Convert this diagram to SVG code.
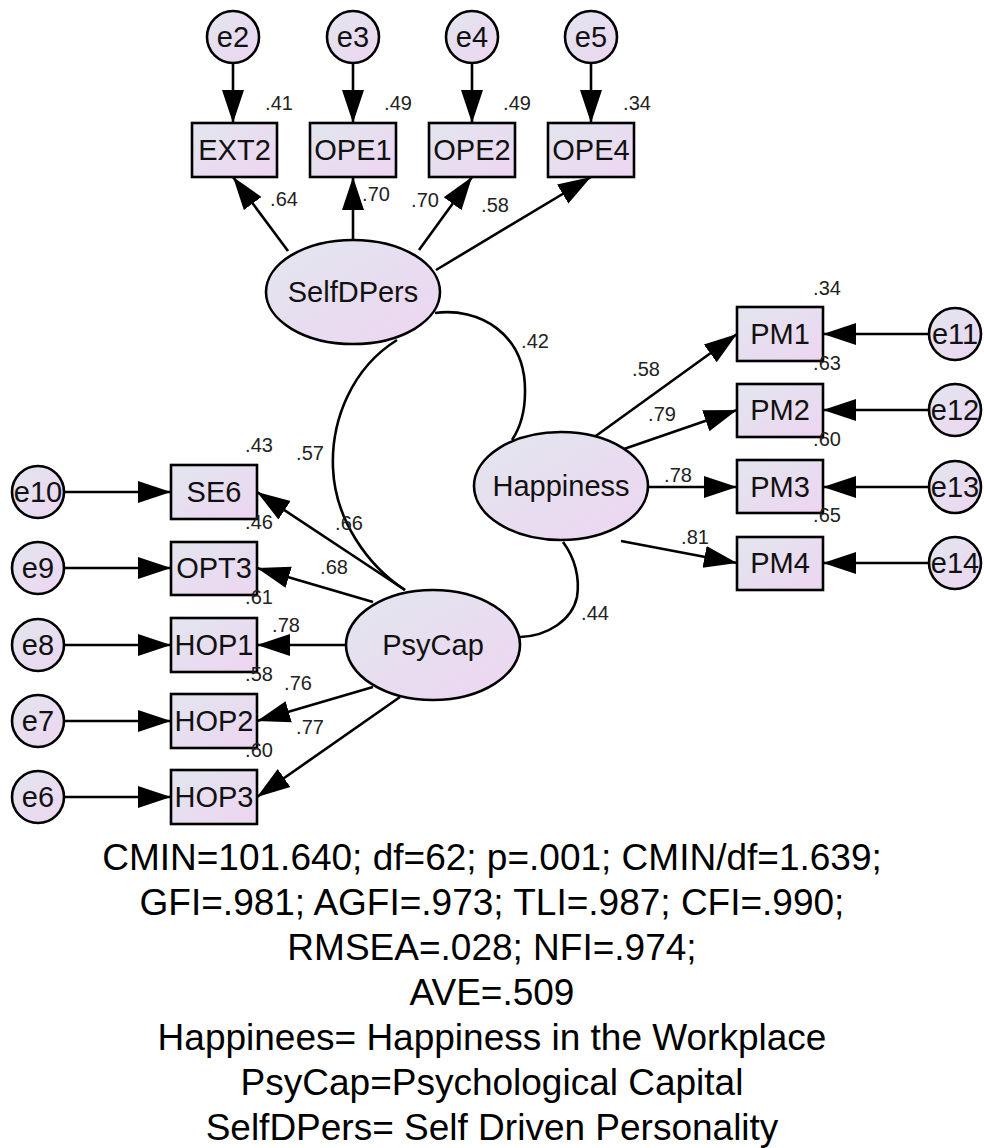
<svg xmlns="http://www.w3.org/2000/svg" width="984" height="1148" viewBox="0 0 984 1148">
<defs>
<linearGradient id="fill" x1="0" y1="0" x2="1" y2="1">
<stop offset="0" stop-color="#e2e6ee"/>
<stop offset="1" stop-color="#edd5f1"/>
</linearGradient>
<marker id="arr" markerUnits="userSpaceOnUse" markerWidth="34" markerHeight="24" refX="33" refY="12" orient="auto">
<path d="M0,1 L33,12 L0,23 z" fill="#000"/>
</marker>
</defs>
<style>
.shape{fill:url(#fill);stroke:#000;stroke-width:2.6}
.lbl{font-family:"Liberation Sans",Arial,sans-serif;font-size:29px;fill:#111;text-anchor:middle}
.num{font-family:"Liberation Sans",Arial,sans-serif;font-size:20px;fill:#222;text-anchor:middle}
.path{stroke:#000;stroke-width:2.6;fill:none;marker-end:url(#arr)}
.cov{stroke:#000;stroke-width:2.6;fill:none}
.foot{font-family:"Liberation Sans",Arial,sans-serif;font-size:37px;fill:#000;text-anchor:middle}
</style>
<rect width="984" height="1148" fill="#fff"/>
<g id="connectors">
<line class="path" x1="233" y1="63" x2="233" y2="123"/>
<line class="path" x1="353" y1="63" x2="353" y2="123"/>
<line class="path" x1="472" y1="63" x2="472" y2="123"/>
<line class="path" x1="591" y1="63" x2="591" y2="123"/>
<line class="path" x1="288" y1="251" x2="233" y2="177"/>
<line class="path" x1="353" y1="240" x2="353" y2="177"/>
<line class="path" x1="419" y1="250" x2="472" y2="177"/>
<line class="path" x1="436" y1="270" x2="591" y2="177"/>
<line class="path" x1="593" y1="438" x2="737" y2="334"/>
<line class="path" x1="621" y1="450" x2="737" y2="410"/>
<line class="path" x1="648" y1="487" x2="737" y2="487"/>
<line class="path" x1="621" y1="541" x2="737" y2="563"/>
<line class="path" x1="929" y1="334" x2="823" y2="334"/>
<line class="path" x1="929" y1="410" x2="823" y2="410"/>
<line class="path" x1="929" y1="487" x2="823" y2="487"/>
<line class="path" x1="929" y1="563" x2="823" y2="563"/>
<line class="path" x1="64" y1="492" x2="171" y2="492"/>
<line class="path" x1="64" y1="568" x2="171" y2="568"/>
<line class="path" x1="64" y1="645" x2="171" y2="645"/>
<line class="path" x1="64" y1="721" x2="171" y2="721"/>
<line class="path" x1="64" y1="797" x2="171" y2="797"/>
<line class="path" x1="405" y1="590" x2="257" y2="492"/>
<line class="path" x1="373" y1="602" x2="257" y2="568"/>
<line class="path" x1="346" y1="645" x2="257" y2="645"/>
<line class="path" x1="373" y1="687" x2="257" y2="721"/>
<line class="path" x1="400" y1="697" x2="257" y2="797"/>
<path class="cov" d="M435,313 C478,307 526,333 525,392 C525,412 520,428 512,440"/>
<path class="cov" d="M397,340 C352,368 331,420 333,468 C335,520 368,566 405,590"/>
<path class="cov" d="M563,542 C575,558 580,578 577,597 C572,620 548,636 520,637"/>
</g>
<g id="e2"><circle class="shape" cx="233" cy="37" r="26"/><text class="lbl" x="233" y="47">e2</text></g>
<g id="e3"><circle class="shape" cx="353" cy="37" r="26"/><text class="lbl" x="353" y="47">e3</text></g>
<g id="e4"><circle class="shape" cx="472" cy="37" r="26"/><text class="lbl" x="472" y="47">e4</text></g>
<g id="e5"><circle class="shape" cx="591" cy="37" r="26"/><text class="lbl" x="591" y="47">e5</text></g>
<g id="EXT2"><rect class="shape" x="192" y="123" width="85" height="54"/><text class="lbl" x="234.5" y="160">EXT2</text></g>
<g id="OPE1"><rect class="shape" x="310" y="123" width="86" height="54"/><text class="lbl" x="353" y="160">OPE1</text></g>
<g id="OPE2"><rect class="shape" x="429" y="123" width="86" height="54"/><text class="lbl" x="472" y="160">OPE2</text></g>
<g id="OPE4"><rect class="shape" x="548" y="123" width="86" height="54"/><text class="lbl" x="591" y="160">OPE4</text></g>
<g id="SelfDPers"><ellipse class="shape" cx="353" cy="292" rx="87" ry="52"/><text class="lbl" x="353" y="302">SelfDPers</text></g>
<g id="Happiness"><ellipse class="shape" cx="561" cy="486" rx="87" ry="54"/><text class="lbl" x="561" y="496">Happiness</text></g>
<g id="PsyCap"><ellipse class="shape" cx="433" cy="645" rx="87" ry="55"/><text class="lbl" x="433" y="655">PsyCap</text></g>
<g id="PM1"><rect class="shape" x="737" y="307" width="86" height="54"/><text class="lbl" x="780" y="344">PM1</text></g>
<g id="PM2"><rect class="shape" x="737" y="384" width="86" height="53"/><text class="lbl" x="780" y="420">PM2</text></g>
<g id="PM3"><rect class="shape" x="737" y="460" width="86" height="53"/><text class="lbl" x="780" y="497">PM3</text></g>
<g id="PM4"><rect class="shape" x="737" y="537" width="86" height="53"/><text class="lbl" x="780" y="573">PM4</text></g>
<g id="e11"><circle class="shape" cx="955" cy="334" r="26"/><text class="lbl" x="955" y="344">e11</text></g>
<g id="e12"><circle class="shape" cx="955" cy="410" r="26"/><text class="lbl" x="955" y="420">e12</text></g>
<g id="e13"><circle class="shape" cx="955" cy="487" r="26"/><text class="lbl" x="955" y="497">e13</text></g>
<g id="e14"><circle class="shape" cx="955" cy="563" r="26"/><text class="lbl" x="955" y="573">e14</text></g>
<g id="SE6"><rect class="shape" x="171" y="465" width="86" height="54"/><text class="lbl" x="214" y="502">SE6</text></g>
<g id="OPT3"><rect class="shape" x="171" y="542" width="86" height="53"/><text class="lbl" x="214" y="578">OPT3</text></g>
<g id="HOP1"><rect class="shape" x="171" y="618" width="86" height="54"/><text class="lbl" x="214" y="655">HOP1</text></g>
<g id="HOP2"><rect class="shape" x="171" y="694" width="86" height="54"/><text class="lbl" x="214" y="731">HOP2</text></g>
<g id="HOP3"><rect class="shape" x="171" y="770" width="86" height="54"/><text class="lbl" x="214" y="807">HOP3</text></g>
<g id="e10"><circle class="shape" cx="38" cy="492" r="26"/><text class="lbl" x="38" y="502">e10</text></g>
<g id="e9"><circle class="shape" cx="38" cy="568" r="26"/><text class="lbl" x="38" y="578">e9</text></g>
<g id="e8"><circle class="shape" cx="38" cy="645" r="26"/><text class="lbl" x="38" y="655">e8</text></g>
<g id="e7"><circle class="shape" cx="38" cy="721" r="26"/><text class="lbl" x="38" y="731">e7</text></g>
<g id="e6"><circle class="shape" cx="38" cy="797" r="26"/><text class="lbl" x="38" y="807">e6</text></g>
<g id="labels">
<text class="num" x="279" y="110">.41</text>
<text class="num" x="398" y="110">.49</text>
<text class="num" x="517" y="110">.49</text>
<text class="num" x="637" y="110">.34</text>
<text class="num" x="284" y="206">.64</text>
<text class="num" x="376" y="201">.70</text>
<text class="num" x="425" y="207">.70</text>
<text class="num" x="495" y="212">.58</text>
<text class="num" x="535" y="348">.42</text>
<text class="num" x="310" y="460">.57</text>
<text class="num" x="646" y="376">.58</text>
<text class="num" x="662" y="421">.79</text>
<text class="num" x="678" y="482">.78</text>
<text class="num" x="695" y="544">.81</text>
<text class="num" x="827" y="295">.34</text>
<text class="num" x="827" y="370">.63</text>
<text class="num" x="827" y="446">.60</text>
<text class="num" x="827" y="522">.65</text>
<text class="num" x="259" y="452">.43</text>
<text class="num" x="259" y="529">.46</text>
<text class="num" x="259" y="604">.61</text>
<text class="num" x="259" y="681">.58</text>
<text class="num" x="259" y="757">.60</text>
<text class="num" x="349" y="530">.66</text>
<text class="num" x="334" y="574">.68</text>
<text class="num" x="286" y="632">.78</text>
<text class="num" x="298" y="690">.76</text>
<text class="num" x="310" y="734">.77</text>
<text class="num" x="595" y="620">.44</text>
</g>
<g id="footer">
<text class="foot" x="492" y="870">CMIN=101.640; df=62; p=.001; CMIN/df=1.639;</text>
<text class="foot" x="492" y="915">GFI=.981; AGFI=.973; TLI=.987; CFI=.990;</text>
<text class="foot" x="492" y="960">RMSEA=.028; NFI=.974;</text>
<text class="foot" x="492" y="1005">AVE=.509</text>
<text class="foot" x="492" y="1050">Happinees= Happiness in the Workplace</text>
<text class="foot" x="492" y="1095">PsyCap=Psychological Capital</text>
<text class="foot" x="492" y="1140">SelfDPers= Self Driven Personality</text>
</g>
</svg>
